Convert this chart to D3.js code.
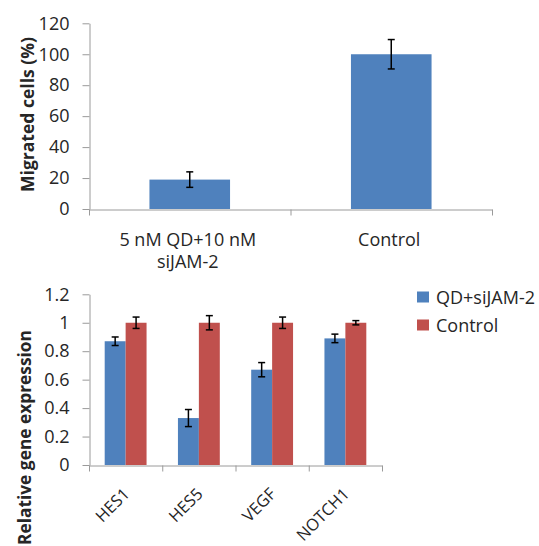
<!DOCTYPE html>
<html>
<head>
<meta charset="utf-8">
<script src="https://cdn.jsdelivr.net/npm/d3@7"></script>
<style>
  html, body { margin: 0; padding: 0; background: #fff; }
  svg { display: block; }
  text { font-family: "Open Sans", "DejaVu Sans", sans-serif; fill: #262626; }
</style>
</head>
<body>
<script>
// ---------- data: top chart ----------
const migCategories = ["5 nM QD+10 nM siJAM-2", "Control"];
const migCategoryLines = [["5 nM QD+10 nM", "siJAM-2"], ["Control"]];
const migValues = [19, 100];
const migErrors = [5, 9.5];
const migTicks = [0, 20, 40, 60, 80, 100, 120];
const migTitle = "Migrated cells (%)";

// ---------- data: bottom chart ----------
const genes = ["HES1", "HES5", "VEGF", "NOTCH1"];
const seriesNames = ["QD+siJAM-2", "Control"];
const qdValues = [0.87, 0.33, 0.67, 0.89];
const qdErrors = [0.03, 0.06, 0.05, 0.03];
const controlValues = [1, 1, 1, 1];
const controlErrors = [0.04, 0.05, 0.04, 0.015];
const geneTicks = [0, 0.2, 0.4, 0.6, 0.8, 1, 1.2];
const geneTitle = "Relative gene expression";

const colors = ["#4F81BD", "#C0504D"];
const axisColor = "#9a9a9a";
const W = 539, H = 546;
const FS = 18;

const svg = d3.select("body").append("svg").attr("width", W).attr("height", H);
svg.append("rect").attr("width", W).attr("height", H).attr("fill", "#fff");

function styleAxis(g) {
  g.selectAll("path, line").attr("stroke", axisColor).attr("stroke-width", 1);
  g.selectAll("text").attr("font-size", FS).attr("fill", "#262626")
    .attr("font-family", "'Open Sans', sans-serif");
}

function errorBar(g, cx, yTop, yBot, cap) {
  g.append("line").attr("x1", cx).attr("x2", cx).attr("y1", yTop).attr("y2", yBot)
    .attr("stroke", "#000").attr("stroke-width", 1.5);
  [yTop, yBot].forEach(y => g.append("line")
    .attr("x1", cx - cap / 2).attr("x2", cx + cap / 2).attr("y1", y).attr("y2", y)
    .attr("stroke", "#000").attr("stroke-width", 1.5));
}

// ================= TOP CHART =================
{
  const x0 = 89, x1 = 492, yBottom = 209, yTop = 23.3;
  const y = d3.scaleLinear().domain([0, 120]).range([yBottom, yTop]);
  const x = d3.scaleBand().domain(migCategories).range([x0, x1]).padding(0);
  const barW = x.bandwidth() / 2.5;
  const g = svg.append("g");

  const ya = g.append("g").attr("transform", `translate(${x0 + 0.5},0)`)
    .call(d3.axisLeft(y).tickValues(migTicks).tickSize(7).tickPadding(13).tickSizeOuter(0));
  styleAxis(ya);

  const xb = d3.scaleLinear().domain([0, migCategories.length]).range([x0, x1]);
  const xa = g.append("g").attr("transform", `translate(0,${yBottom + 0.5})`)
    .call(d3.axisBottom(xb).tickValues(d3.range(migCategories.length + 1)).tickSize(6).tickSizeOuter(0).tickFormat(""));
  styleAxis(xa);

  g.selectAll("rect.bar").data(migValues).join("rect")
    .attr("x", (d, i) => x(migCategories[i]) + (x.bandwidth() - barW) / 2)
    .attr("y", d => y(d))
    .attr("width", barW)
    .attr("height", d => y(0) - y(d))
    .attr("fill", colors[0]);

  migValues.forEach((v, i) => {
    const cx = x(migCategories[i]) + x.bandwidth() / 2;
    errorBar(g, cx, y(v + migErrors[i]), y(v - migErrors[i]), 7);
  });

  migCategoryLines.forEach((lines, i) => {
    const cx = x(migCategories[i]) + x.bandwidth() / 2 - 2;
    lines.forEach((ln, j) => {
      g.append("text").attr("x", cx).attr("y", 246 + j * 22)
        .attr("text-anchor", "middle").attr("font-size", FS).text(ln);
    });
  });

  g.append("text")
    .attr("transform", `translate(33.5,${(37 + 192) / 2}) rotate(-90)`)
    .attr("text-anchor", "middle").attr("font-size", 17.5).attr("font-weight", "bold")
    .attr("textLength", 155).attr("lengthAdjust", "spacingAndGlyphs")
    .text(migTitle);
}

// ================= BOTTOM CHART =================
{
  const x0 = 89, x1 = 382, yBottom = 465, yTop = 294.3;
  const y = d3.scaleLinear().domain([0, 1.2]).range([yBottom, yTop]);
  const xg = d3.scaleBand().domain(genes).range([x0, x1]).padding(0);
  const xs = d3.scaleBand().domain(seriesNames).range([0, xg.bandwidth()])
    .paddingInner(0).paddingOuter(0.75);
  const g = svg.append("g");

  const ya = g.append("g").attr("transform", `translate(${x0 + 0.5},0)`)
    .call(d3.axisLeft(y).tickValues(geneTicks).tickSize(7).tickPadding(13).tickSizeOuter(0)
      .tickFormat(d3.format("~g")));
  styleAxis(ya);

  const xb = d3.scaleLinear().domain([0, genes.length]).range([x0, x1]);
  const xa = g.append("g").attr("transform", `translate(0,${yBottom + 0.5})`)
    .call(d3.axisBottom(xb).tickValues(d3.range(genes.length + 1)).tickSize(6).tickSizeOuter(0).tickFormat(""));
  styleAxis(xa);

  const seriesVals = [qdValues, controlValues];
  const seriesErrs = [qdErrors, controlErrors];
  seriesNames.forEach((s, si) => {
    g.selectAll(`rect.s${si}`).data(seriesVals[si]).join("rect")
      .attr("class", `s${si}`)
      .attr("x", (d, i) => xg(genes[i]) + xs(s))
      .attr("y", d => y(d))
      .attr("width", xs.bandwidth())
      .attr("height", d => y(0) - y(d))
      .attr("fill", colors[si]);
  });
  seriesNames.forEach((s, si) => {
    seriesVals[si].forEach((v, i) => {
      const cx = xg(genes[i]) + xs(s) + xs.bandwidth() / 2;
      const e = seriesErrs[si][i];
      errorBar(g, cx, y(v + e), y(v - e), 7);
    });
  });

  genes.forEach(gn => {
    const cx = xg(gn) + xg.bandwidth() / 2;
    g.append("text")
      .attr("transform", `translate(${cx + 5},495) rotate(-45)`)
      .attr("text-anchor", "end").attr("font-size", 16.5).text(gn);
  });

  g.append("text")
    .attr("transform", `translate(31,${(330 + 545) / 2}) rotate(-90)`)
    .attr("text-anchor", "middle").attr("font-size", 17.5).attr("font-weight", "bold")
    .attr("textLength", 215).attr("lengthAdjust", "spacingAndGlyphs")
    .text(geneTitle);

  const lg = g.append("g");
  seriesNames.forEach((s, si) => {
    const ly = 291.5 + si * 28;
    lg.append("rect").attr("x", 417).attr("y", ly).attr("width", 12).attr("height", 11)
      .attr("fill", colors[si]);
    lg.append("text").attr("x", 436).attr("y", ly + 12).attr("font-size", FS).text(s);
  });
}
</script>
</body>
</html>
